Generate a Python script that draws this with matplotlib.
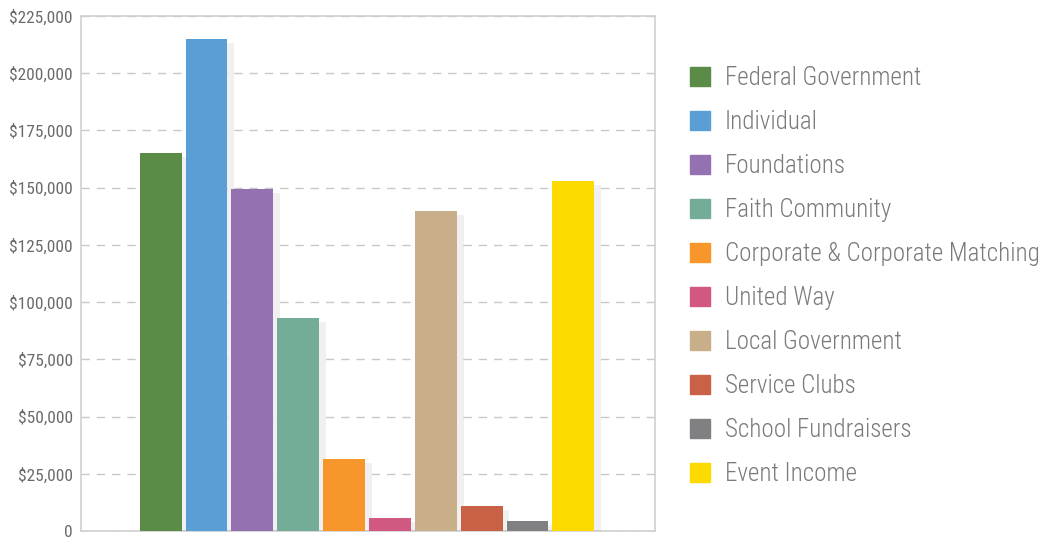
import matplotlib
matplotlib.use("Agg")
import matplotlib.pyplot as plt
import matplotlib.patheffects as pe
from matplotlib.ticker import FuncFormatter, MultipleLocator
from matplotlib import font_manager

categories = ["Federal Government", "Individual", "Foundations", "Faith Community",
              "Corporate & Corporate Matching", "United Way", "Local Government",
              "Service Clubs", "School Fundraisers", "Event Income"]
values = [165000, 215000, 149500, 93000, 31500, 5700, 140000, 11000, 4500, 153000]
colors = ["#5b8c47", "#599fd6", "#9471b0", "#73ad98", "#f7962b", "#d15880",
          "#c8af8a", "#c96146", "#808083", "#fddb00"]

names = {f.name for f in font_manager.fontManager.ttflist}
fam = [f for f in ["Roboto Condensed", "Liberation Sans Narrow", "Roboto", "DejaVu Sans"] if f in names]
plt.rcParams['font.family'] = fam

fig = plt.figure(figsize=(10.5, 5.43), dpi=100)
W, H = 1050, 543
ax = fig.add_axes([81 / W, 1 - 531 / H, (655 - 81) / W, (531 - 16) / H])

step = 46
handles = []
for i, (v, c, lab) in enumerate(zip(values, colors, categories)):
    b = ax.bar(i, v, width=42 / step, color=c, label=lab, zorder=3)
    handles.append(plt.Rectangle((0, 0), 1, 1, color=c))
    for p in b:
        p.set_path_effects([pe.SimplePatchShadow(offset=(5, -3), shadow_rgbFace="#000000", alpha=0.06),
                            pe.Normal()])

ax.set_xlim(-80 / step, 9 + 82 / step)
ax.set_ylim(0, 225000)
ax.yaxis.set_major_locator(MultipleLocator(25000))
ax.yaxis.set_major_formatter(FuncFormatter(lambda v, p: "0" if v == 0 else "${:,.0f}".format(v)))
ax.set_xticks([])
ax.tick_params(axis='y', length=0, pad=6, labelsize=12.5, labelcolor="#6b6b6b")
ax.grid(axis='y', color="#c8c8c8", linestyle=(0, (6, 5)), linewidth=1, zorder=0)
for s in ax.spines.values():
    s.set_color("#cfcfcf")
    s.set_linewidth(1.2)

leg = fig.legend(handles, categories, loc='upper left', bbox_to_anchor=(690 / W, 1 - 66 / H),
                 frameon=False, fontsize=18, handlelength=0.78, handleheight=0.78,
                 handletextpad=0.62, labelspacing=0.8, borderpad=0, borderaxespad=0)
for t in leg.get_texts():
    t.set_color("#7a7a7a")
    t.set_fontweight("light")

fig.savefig("out.png", dpi=100, facecolor="white")
